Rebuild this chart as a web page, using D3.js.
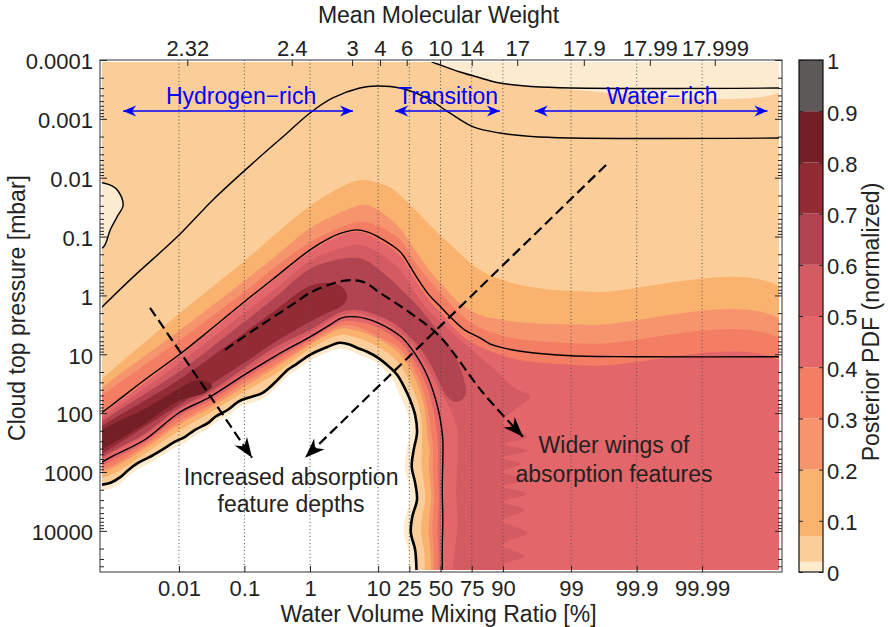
<!DOCTYPE html>
<html>
<head>
<meta charset="utf-8">
<title>Posterior PDF</title>
<script src="https://cdn.jsdelivr.net/npm/d3@7/dist/d3.min.js"></script>
<style>
  body { margin: 0; background: #fff; }
  svg { display: block; font-family: 'Liberation Sans', Arial, Helvetica, sans-serif; }
  .axis path { display: none; }
  .axis line { stroke: #222; }
  .axis text { font-size: 22px; fill: #222; font-family: 'Liberation Sans', Arial, sans-serif; }
  .label { font-size: 23px; fill: #222; }
  .blue { font-size: 23px; fill: #0000ff; }
</style>
</head>
<body>
<svg width="888" height="627"></svg>
<script>
// axis ticks
const vmrTicks = [0.01, 0.1, 1, 10, 25, 50, 75, 90, 99, 99.9, 99.99]
const vmrTickLabels = ['0.01', '0.1', '1', '10', '25', '50', '75', '90', '99', '99.9', '99.99']
const mmwTickLabels = ['2.32', '2.4', '3', '4', '6', '10', '14', '17', '17.9', '17.99', '17.999']
const mmwTickVmr = [0.0134, 0.528, 4.25, 10.6, 23.3, 49.6, 75, 93.7, 99.36, 99.937, 99.9936]
const pressureTicks = [0.0001, 0.001, 0.01, 0.1, 1, 10, 100, 1000, 10000]
const pressureTickLabels = ['0.0001', '0.001', '0.01', '0.1', '1', '10', '100', '1000', '10000']

// colour levels of the posterior
const pdfLevels = [0, 0.02, 0.07, 0.2, 0.3, 0.4, 0.5, 0.6, 0.7, 0.8, 0.9, 1]
const pdfColors = ['#fdebd0', '#fbcd98', '#f9b36f', '#f6956d', '#f47e64', '#e3666a',
  '#d35b61', '#b14450', '#932b35', '#741f26', '#5e5959']
const cbarTicks = [0, 0.1, 0.2, 0.3, 0.4, 0.5, 0.6, 0.7, 0.8, 0.9, 1]
const cbarTickLabels = ['0', '0.1', '0.2', '0.3', '0.4', '0.5', '0.6', '0.7', '0.8', '0.9', '1']

// contours: [water VMR %, cloud top pressure mbar]
const edge02 = [[0.0005, 1710], [0.0009, 1520], [0.0013, 1200], [0.0017, 915], [0.0024, 695], [0.0034, 572],
  [0.0055, 419], [0.0087, 306], [0.0124, 252], [0.0176, 192], [0.028, 146], [0.036, 115], [0.056, 87.6],
  [0.08, 64.1], [0.114, 54.8], [0.19, 45.1], [0.29, 30.5], [0.46, 18.3], [0.6, 15.1], [1, 10.2], [1.7, 7.76],
  [2.8, 6.38], [4, 6.9], [5, 7.76], [7, 9.07], [10, 11.5], [14.6, 17.0], [17.8, 22.3], [22, 37.1], [25.5, 59.3],
  [29, 107], [30.4, 215], [28, 419], [26.6, 814], [29, 1520], [30.4, 2956], [27, 5750], [26, 10700],
  [29, 20900], [30, 45600], [30, 322000]]
const zeroEdge = [[0.0005, 2160], [0.0009, 1920], [0.0013, 1520], [0.0017, 1160], [0.0024, 880], [0.0034, 723],
  [0.0055, 529], [0.0087, 387], [0.0124, 318], [0.0176, 242], [0.028, 184], [0.036, 146], [0.056, 111],
  [0.08, 81], [0.114, 69.3], [0.19, 57], [0.29, 38.6], [0.46, 23.2], [0.6, 19.1], [1, 12.9], [2.8, 8.07],
  [4, 8.73], [5, 9.81], [7, 11.5], [10, 14.5], [15.8, 28.2], [18.8, 46.9], [21.7, 72.1], [24.8, 120],
  [25.5, 215], [23.3, 419], [22.1, 814], [24.2, 1520], [25.5, 2956], [22.5, 5750], [21.5, 10700],
  [24.2, 20900], [25.1, 45600], [25.1, 322000]]
const innerLine = [[0.0005, 814], [0.001, 529], [0.003, 283], [0.01, 98.5], [0.03, 52.7], [0.1, 22.3],
  [0.3, 10.6], [1, 5.05], [2, 3.16], [3, 2.40], [5, 2.31], [7, 2.50], [10, 2.92], [15, 3.84], [20, 5.05],
  [25, 7.18], [30, 10.6], [35, 16.3], [40, 27.1], [45, 52.7], [48, 87.6], [50, 135], [52, 283], [52, 619],
  [51.5, 2000], [52, 6460], [51.5, 20900], [52, 322000]]
const midLine = [[0.0005, 125], [0.001, 69.3], [0.003, 27.1], [0.01, 10.2], [0.03, 3.84], [0.1, 1.28],
  [0.3, 0.484], [1, 0.168], [2, 0.105], [3, 0.0866], [5, 0.077], [7, 0.0832], [10, 0.101], [15, 0.138],
  [20, 0.189], [30, 0.484], [40, 0.977], [50, 1.56], [60, 2.50], [70, 3.84], [80, 5.25], [85, 6.64],
  [90, 7.76], [95, 9.07], [99, 10.6], [99.9, 11.0], [99.9995, 11.0]]
const outerLine = [[0.0005, 2.14], [0.002, 0.484], [0.0094, 0.101], [0.033, 0.0238], [0.136, 0.0056],
  [0.45, 0.00174], [1, 0.000794], [2.2, 0.000442], [5.5, 0.000299], [9.7, 0.000276], [19.4, 0.000299],
  [38, 0.000442], [58, 0.000794], [76, 0.00137], [89, 0.00174], [97, 0.00203], [99.9995, 0.00211]]
const topLine = [[36, 8.55e-5], [42.6, 1.08e-4], [50, 1.22e-4], [66.5, 1.6e-4], [80.4, 2.02e-4],
  [89, 2.46e-4], [97.1, 2.87e-4], [99.9995, 2.99e-4]]
const leftBlob = [[0.0005, 0.0118], [0.0007, 0.0123], [0.00095, 0.0138], [0.00117, 0.0168], [0.0014, 0.029],
  [0.00113, 0.0463], [0.00089, 0.077], [0.0007, 0.15], [0.0005, 0.168]]

// filled level boundaries (upper and lower side of the ridge)
const up07 = [[0.0005, 34.3], [0.001, 17.6], [0.01, 2.05], [0.1, 0.259], [0.3, 0.090], [1, 0.0301], [3, 0.0143],
  [5, 0.0113], [7, 0.0109], [10, 0.0123], [15, 0.0149], [20, 0.0204], [30, 0.0366], [40, 0.0609], [60, 0.144],
  [80, 0.368], [95, 0.687], [99.5, 0.869], [99.9995, 0.904]]
const lo07 = [[0.0005, 1350], [0.001, 1070], [0.003, 489], [0.01, 199], [0.03, 98.5], [0.1, 43.3], [0.3, 21.4],
  [1, 8.07], [3, 4.67], [5, 5.25], [10, 7.47], [18.5, 13.9], [26.8, 35.7], [33.3, 111], [34.1, 453], [34, 814],
  [35.8, 1520], [36.9, 2956], [34.4, 5750], [33.5, 10700], [35.8, 20900], [36.5, 45600], [36.5, 322000]]
const up20 = [[0.0005, 46.9], [0.001, 26.1], [0.01, 3.99], [0.1, 0.565], [0.3, 0.213], [1, 0.0712], [3, 0.0381],
  [5, 0.0301], [7, 0.029], [10, 0.0352], [15, 0.0521], [20, 0.077], [30, 0.182], [40, 0.368], [50, 0.611],
  [60, 1.02], [70, 1.56], [80, 2.14], [90, 2.6], [95, 2.92], [99.5, 3.16], [99.9995, 3.16]]
const lo20 = [[0.0005, 1160], [0.001, 845], [0.003, 402], [0.01, 157], [0.03, 81], [0.1, 35.7], [0.3, 17.0],
  [1, 6.9], [3, 3.69], [5, 3.99], [10, 5.46], [19, 9.81], [27.9, 23.2], [35.5, 69.3], [39.2, 306], [40.6, 419],
  [39.8, 814], [41.1, 1520], [41.9, 2956], [40.1, 5750], [39.5, 10700], [41.1, 20900], [41.6, 45600],
  [41.6, 322000]]
const up30 = [[0.0005, 61.6], [0.001, 35.7], [0.01, 5.9], [0.1, 0.869], [0.3, 0.327], [1, 0.123], [3, 0.0685],
  [5, 0.0563], [7, 0.0563], [10, 0.0658], [15, 0.0866], [20, 0.118], [30, 0.291], [40, 0.544], [50, 0.904],
  [60, 1.5], [70, 2.4], [80, 3.55], [90, 4.85], [95, 5.68], [99.5, 6.64], [99.9995, 6.9]]
const lo30 = [[0.0005, 1030], [0.001, 752], [0.003, 358], [0.01, 140], [0.03, 72.1], [0.1, 30.5], [0.3, 15.1],
  [1, 6.38], [3, 3.28], [5, 3.42], [10, 5.05], [19.3, 8.07], [28.5, 18.3], [36.8, 52.7], [42.3, 242],
  [43.5, 419], [43.2, 814], [44, 1520], [44.5, 2956], [43.3, 5750], [43, 10700], [44, 20900], [44.4, 45600],
  [44.4, 322000]]
const up40 = [[0.0005, 129.5], [0.001, 74.9], [0.01, 11.0], [0.1, 1.39], [0.3, 0.523], [1, 0.182], [3, 0.0936],
  [5, 0.0832], [7, 0.090], [10, 0.114], [15, 0.156], [20, 0.221], [30, 0.588], [40, 1.19], [50, 1.97],
  [60, 3.28], [70, 5.25], [80, 7.47], [90, 10.6], [95, 12.9], [99.5, 15.7], [99.9995, 16.3]]
const lo40 = [[0.0005, 915], [0.001, 619], [0.003, 318], [0.01, 115], [0.03, 61.6], [0.1, 26.1], [0.3, 12.4],
  [1, 5.68], [3, 2.81], [5, 2.81], [10, 3.55], [19.6, 6.38], [29.2, 13.9], [38.5, 37.1], [46.4, 177],
  [47.8, 419], [47.5, 814], [48, 1520], [48.4, 2956], [47.6, 5750], [47.4, 10700], [48, 20900], [48.2, 45600],
  [48.2, 322000]]
const up50 = [[0.0005, 146], [0.001, 87.6], [0.01, 14.5], [0.1, 1.97], [0.3, 0.773], [1, 0.259], [3, 0.156],
  [5, 0.138], [7, 0.15], [10, 0.182], [15, 0.269], [20, 0.383], [30, 0.977], [40, 1.83], [50, 2.81], [60, 4.32],
  [70, 6.64], [80, 11.0], [88, 19.8], [93, 37.1], [95.9, 52.7], [93, 87.6], [90, 146], [95.5, 252],
  [90.5, 331], [95.5, 435], [90, 572], [94.5, 723], [90, 989], [95, 1352], [90, 1780], [95.5, 2340],
  [90, 3200], [95, 4370], [90, 6720], [95.5, 10700], [90, 17200], [95, 27400], [90, 39000], [90, 322000]]
const lo50 = [[0.0005, 752], [0.001, 452], [0.003, 242], [0.01, 87.6], [0.03, 46.9], [0.1, 19.8], [0.3, 9.07],
  [1, 4.32], [2, 2.7], [3, 2.14], [5, 1.97], [7, 2.14], [10, 2.5], [15, 3.28], [20, 4.32], [25, 5.9],
  [30, 8.39], [35, 12.4], [40, 18.3], [45, 28.2], [50, 45.1], [55, 61.6], [60, 102], [64, 177], [64.5, 619],
  [63.5, 2000], [64.5, 6460], [64, 322000]]
const up60 = [[0.0005, 170], [0.001, 102], [0.01, 19.8], [0.1, 2.81], [0.3, 1.06], [1, 0.354], [3, 0.239],
  [5, 0.23], [7, 0.259], [10, 0.354], [15, 0.544], [20, 0.804], [30, 1.44], [40, 2.6], [50, 4.67], [60, 8.39],
  [66, 15.7], [70, 29.3], [71, 45.1], [68, 59.3], [62, 64.1]]
const lo60 = [[0.0005, 669], [0.001, 435], [0.003, 224], [0.01, 81], [0.03, 43.3], [0.1, 17.0], [0.3, 7.47],
  [1, 3.84], [3, 1.9], [5, 1.76], [7, 1.9], [10, 2.22], [15, 2.81], [20, 3.69], [30, 6.64], [40, 13.4],
  [50, 33.0], [55, 50.7]]
const ring70 = [[0.0005, 199], [0.001, 125], [0.01, 27.1], [0.1, 4.32], [0.3, 1.76], [1, 0.687], [2, 0.611],
  [3, 0.715], [3.6, 1.06], [3, 1.5], [2, 1.9], [1, 2.81], [0.3, 6.14], [0.1, 13.9], [0.01, 72.1],
  [0.001, 372], [0.0005, 595]]
const ring80 = [[0.0005, 233], [0.001, 151], [0.003, 84.3], [0.01, 38.6], [0.02, 27.1], [0.032, 34.3],
  [0.025, 45.1], [0.01, 61.6], [0.003, 151], [0.001, 318], [0.0005, 489]]

// ridge of the posterior and the annotation arrows
const ridgePath = [[0.0507, 8.39], [0.156, 3.55], [0.592, 1.34], [1, 0.904], [3.13, 0.566], [6.13, 0.588],
  [10.6, 0.904], [25.5, 1.97], [49.6, 5.05], [81.7, 45.1], [94.8, 252]]
const depthArrow = [[0.00361, 1.62], [0.131, 572]]
const returnArrow = [[99.706, 0.00607], [0.84, 572]]

const svg = d3.select('svg')
const plot = { left: 100, right: 782, top: 60, bottom: 572 }

const logit = v => Math.log10(v / (100 - v))
const xLin = d3.scaleLinear()
  .domain([logit(6.2e-4), logit(100 - 6.0e-4)])
  .range([plot.left, plot.right])
const x = v => xLin(logit(v))
const y = d3.scaleLog()
  .domain([1e-4, 5e4])
  .range([plot.top, plot.bottom])

const line = d3.line()
  .x(d => x(d[0]))
  .y(d => y(d[1]))
  .curve(d3.curveCatmullRom.alpha(0.5))
const straight = d3.line()
  .x(d => x(d[0]))
  .y(d => y(d[1]))
const ring = pts => line(pts) + 'Z'

const defs = svg.append('defs')
defs.append('clipPath').attr('id', 'clip')
  .append('rect')
  .attr('x', 102).attr('y', 62)
  .attr('width', 677).attr('height', 508)

defs.append('marker')
  .attr('id', 'head')
  .attr('viewBox', '-22 -10 24 20')
  .attr('refX', 0).attr('refY', 0)
  .attr('markerWidth', 24).attr('markerHeight', 20)
  .attr('markerUnits', 'userSpaceOnUse')
  .attr('orient', 'auto')
  .append('path')
  .attr('d', 'M0,0 L-20,-7.5 L-14,0 L-20,7.5 Z')
  .attr('fill', '#000')

defs.append('marker')
  .attr('id', 'bluehead')
  .attr('viewBox', '-15 -7 16 14')
  .attr('refX', 0).attr('refY', 0)
  .attr('markerWidth', 16).attr('markerHeight', 14)
  .attr('markerUnits', 'userSpaceOnUse')
  .attr('orient', 'auto-start-reverse')
  .append('path')
  .attr('d', 'M0,0 L-13,-5.5 L-9,0 L-13,5.5 Z')
  .attr('fill', '#0000ff')

// filled contours, painted from the lowest level up
const fills = svg.append('g').attr('clip-path', 'url(#clip)')
const bottomRight = [99.9995, 322000]
const bottomLeft = [0.0005, 322000]

fills.append('rect')
  .attr('x', plot.left).attr('y', plot.top)
  .attr('width', plot.right - plot.left).attr('height', plot.bottom - plot.top)
  .attr('fill', pdfColors[1])

const lowAreas = [
  { pts: topLine.concat([[99.9995, 5e-5], [36, 5e-5]]), color: pdfColors[0] },
  { pts: leftBlob, color: pdfColors[0] },
  { pts: edge02.concat([bottomLeft]), color: pdfColors[0] },
  { pts: zeroEdge.concat([bottomLeft]), color: '#fff' }
]
const levelSets = [
  { pts: up07.concat([bottomRight], lo07.slice().reverse()), color: pdfColors[2] },
  { pts: up20.concat([bottomRight], lo20.slice().reverse()), color: pdfColors[3] },
  { pts: up30.concat([bottomRight], lo30.slice().reverse()), color: pdfColors[4] },
  { pts: up40.concat([bottomRight], lo40.slice().reverse()), color: pdfColors[5] },
  { pts: up50.concat(lo50.slice().reverse()), color: pdfColors[6] },
  { pts: up60.concat(lo60.slice().reverse()), color: pdfColors[7] },
  { pts: ring70, color: pdfColors[8] },
  { pts: ring80, color: pdfColors[9] }
]

fills.selectAll('.low')
  .data(lowAreas)
  .enter().append('path')
  .attr('class', 'low')
  .attr('d', d => ring(d.pts))
  .attr('fill', d => d.color)

fills.selectAll('.level')
  .data(levelSets)
  .enter().append('path')
  .attr('class', 'level')
  .attr('d', d => ring(d.pts))
  .attr('fill', d => d.color)

// dotted grid at the mixing ratio ticks
svg.append('g')
  .selectAll('line')
  .data(vmrTicks)
  .enter().append('line')
  .attr('x1', d => x(d)).attr('x2', d => x(d))
  .attr('y1', plot.top).attr('y2', plot.bottom)
  .attr('stroke', '#555')
  .attr('stroke-width', 1)
  .attr('stroke-dasharray', '1,2.5')

// black contour lines
const lines = svg.append('g').attr('clip-path', 'url(#clip)')
  .attr('fill', 'none').attr('stroke', '#000')
;[outerLine, midLine, innerLine, topLine, leftBlob].forEach(pts => {
  lines.append('path').attr('d', line(pts)).attr('stroke-width', 1.4)
})
lines.append('path').attr('d', line(edge02)).attr('stroke-width', 2.6)

// dashed ridge and arrows
const arrows = svg.append('g')
  .attr('fill', 'none').attr('stroke', '#000')
  .attr('stroke-width', 2.2).attr('stroke-dasharray', '10,5')
arrows.append('path').attr('d', line(ridgePath)).attr('marker-end', 'url(#head)')
arrows.append('path').attr('d', straight(depthArrow)).attr('marker-end', 'url(#head)')
arrows.append('path').attr('d', straight(returnArrow)).attr('marker-end', 'url(#head)')

// annotations
const notes = svg.append('g').attr('class', 'label').attr('text-anchor', 'middle')
notes.append('text').attr('x', x(0.515)).attr('y', y(1640)).text('Increased absorption')
notes.append('text').attr('x', x(0.515)).attr('y', y(1640) + 27).text('feature depths')
notes.append('text').attr('x', x(99.778)).attr('y', y(470)).text('Wider wings of')
notes.append('text').attr('x', x(99.778)).attr('y', y(470) + 29).text('absorption features')

const regimes = [
  { name: 'Hydrogen−rich', from: 0.0014, to: 4.39, mid: 0.089 },
  { name: 'Transition', from: 16.8, to: 89, mid: 56.6 },
  { name: 'Water−rich', from: 96.5, to: 99.999, mid: 99.959 }
]
const regimeY = y(7.35e-4)
const reg = svg.append('g')
reg.selectAll('line')
  .data(regimes)
  .enter().append('line')
  .attr('x1', d => x(d.from)).attr('x2', d => x(d.to))
  .attr('y1', regimeY).attr('y2', regimeY)
  .attr('stroke', '#0000ff').attr('stroke-width', 1.6)
  .attr('marker-start', 'url(#bluehead)')
  .attr('marker-end', 'url(#bluehead)')
reg.selectAll('text')
  .data(regimes)
  .enter().append('text')
  .attr('class', 'blue')
  .attr('text-anchor', 'middle')
  .attr('x', d => x(d.mid))
  .attr('y', regimeY - 7)
  .text(d => d.name)

// axes
const minorP = []
d3.range(-4, 5).forEach(e => d3.range(2, 10).forEach(k => {
  const v = k * Math.pow(10, e)
  if (v < 5e4) minorP.push(v)
}))

svg.append('g').attr('class', 'axis')
  .attr('transform', `translate(${plot.left},0)`)
  .call(d3.axisLeft(y).tickValues(pressureTicks)
    .tickFormat((d, i) => pressureTickLabels[i])
    .tickSizeInner(-7).tickSizeOuter(0).tickPadding(7))
  .selectAll('text').attr('dy', '0.4em')
svg.append('g').attr('class', 'axis')
  .attr('transform', `translate(${plot.left},0)`)
  .call(d3.axisLeft(y).tickValues(minorP).tickFormat('').tickSizeInner(-4).tickSizeOuter(0))
svg.append('g').attr('class', 'axis')
  .attr('transform', `translate(${plot.right},0)`)
  .call(d3.axisRight(y).tickValues(pressureTicks).tickFormat('').tickSizeInner(-7).tickSizeOuter(0))
svg.append('g').attr('class', 'axis')
  .attr('transform', `translate(${plot.right},0)`)
  .call(d3.axisRight(y).tickValues(minorP).tickFormat('').tickSizeInner(-4).tickSizeOuter(0))

svg.append('g').attr('class', 'axis')
  .attr('transform', `translate(0,${plot.bottom})`)
  .call(d3.axisBottom(xLin).tickValues(vmrTicks.map(logit))
    .tickFormat((d, i) => vmrTickLabels[i])
    .tickSizeInner(-6).tickSizeOuter(0).tickPadding(8))
svg.append('g').attr('class', 'axis')
  .attr('transform', `translate(0,${plot.top})`)
  .call(d3.axisTop(xLin).tickValues(mmwTickVmr.map(logit))
    .tickFormat((d, i) => mmwTickLabels[i])
    .tickSizeInner(-6).tickSizeOuter(0).tickPadding(4))

svg.append('rect')
  .attr('x', plot.left).attr('y', plot.top)
  .attr('width', plot.right - plot.left).attr('height', plot.bottom - plot.top)
  .attr('fill', 'none').attr('stroke', '#333').attr('stroke-width', 1)

// axis titles
svg.append('text').attr('class', 'label').attr('text-anchor', 'middle')
  .attr('x', 438.5).attr('y', 23).text('Mean Molecular Weight')
svg.append('text').attr('class', 'label').attr('text-anchor', 'middle')
  .attr('x', 438.5).attr('y', 622).text('Water Volume Mixing Ratio [%]')
svg.append('text').attr('class', 'label').attr('text-anchor', 'middle')
  .attr('transform', 'translate(25,308) rotate(-90)').text('Cloud top pressure [mbar]')

// colour bar
const cbar = { left: 799, right: 823 }
const cy = d3.scaleLinear().domain([0, 1]).range([plot.bottom, plot.top])
const cb = svg.append('g')
cb.selectAll('rect')
  .data(d3.range(pdfColors.length))
  .enter().append('rect')
  .attr('x', cbar.left).attr('width', cbar.right - cbar.left)
  .attr('y', i => cy(pdfLevels[i + 1]))
  .attr('height', i => cy(pdfLevels[i]) - cy(pdfLevels[i + 1]))
  .attr('fill', i => pdfColors[i])
svg.append('g').attr('class', 'axis')
  .attr('transform', `translate(${cbar.right},0)`)
  .call(d3.axisRight(cy).tickValues(cbarTicks)
    .tickFormat((d, i) => cbarTickLabels[i])
    .tickSizeInner(-4).tickSizeOuter(0).tickPadding(4))
  .selectAll('text').attr('dy', '0.4em')
svg.append('g').attr('class', 'axis')
  .attr('transform', `translate(${cbar.left},0)`)
  .call(d3.axisLeft(cy).tickValues(cbarTicks).tickFormat('').tickSizeInner(-4).tickSizeOuter(0))
svg.append('rect')
  .attr('x', cbar.left).attr('y', plot.top)
  .attr('width', cbar.right - cbar.left).attr('height', plot.bottom - plot.top)
  .attr('fill', 'none').attr('stroke', '#111').attr('stroke-width', 1.2)
svg.append('text').attr('class', 'label').attr('text-anchor', 'middle')
  .attr('transform', 'translate(879,322) rotate(-90)').text('Posterior PDF (normalized)')
</script>
</body>
</html>
